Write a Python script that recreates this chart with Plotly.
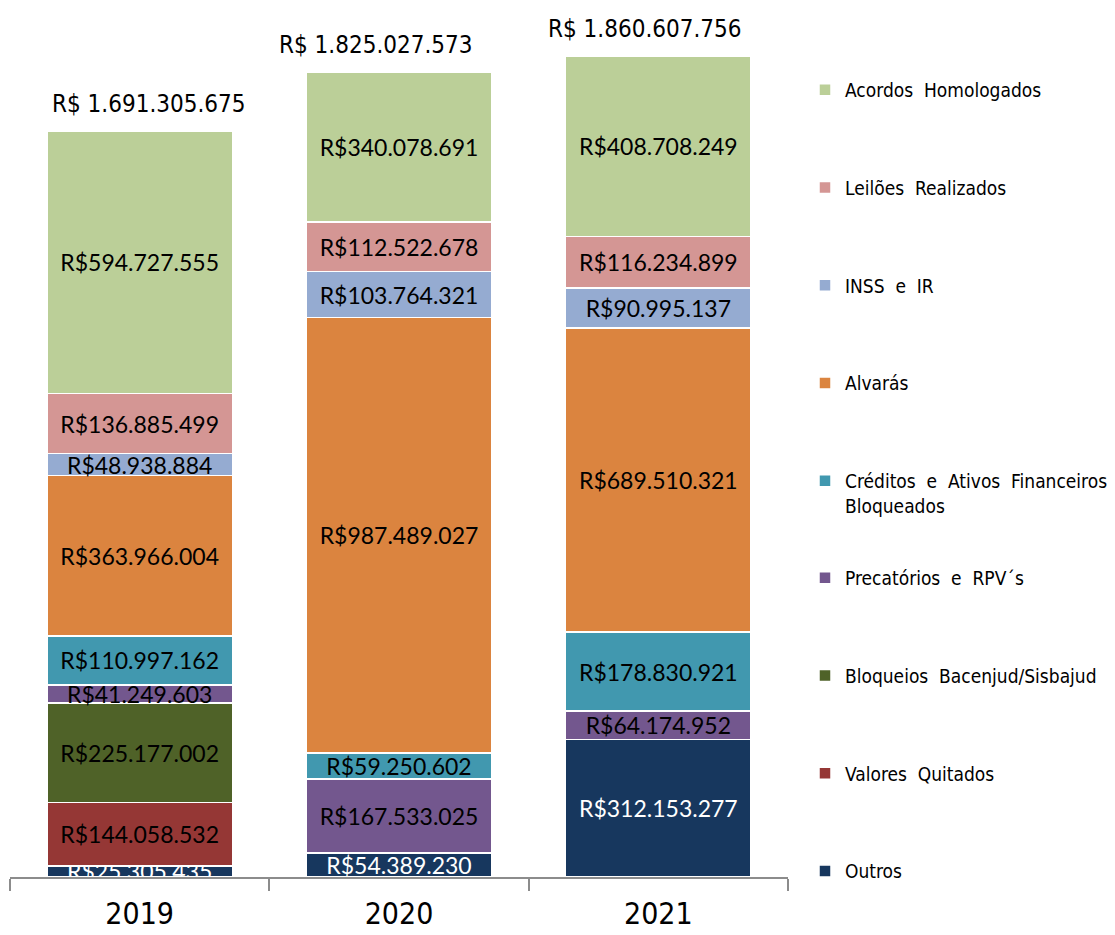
import plotly.graph_objects as go

years = ['2019', '2020', '2021']

# stacked from the bottom up
outros = [25305435, 54389230, 312153277]
valores_quitados = [144058532, None, None]
bloqueios = [225177002, None, None]
precatorios = [41249603, 167533025, 64174952]
creditos = [110997162, 59250602, 178830921]
alvaras = [363966004, 987489027, 689510321]
inss_ir = [48938884, 103764321, 90995137]
leiloes = [136885499, 112522678, 116234899]
acordos = [594727555, 340078691, 408708249]

# totals as printed above the bars
totals = [1691305675, 1825027573, 1860607756]

series = [
    ('Outros', outros, '#17375E', 'white', 'legend2'),
    ('Valores  Quitados', valores_quitados, '#953735', 'black', 'legend2'),
    ('Bloqueios  Bacenjud/Sisbajud', bloqueios, '#4F6228', 'black', 'legend2'),
    ('Precatórios  e  RPV´s', precatorios, '#73578E', 'black', 'legend2'),
    ('Créditos  e  Ativos  Financeiros<br>Bloqueados', creditos, '#4198AF', 'black', 'legend'),
    ('Alvarás', alvaras, '#DB843F', 'black', 'legend'),
    ('INSS  e  IR', inss_ir, '#95ABD1', 'black', 'legend'),
    ('Leilões  Realizados', leiloes, '#D49694', 'black', 'legend'),
    ('Acordos  Homologados', acordos, '#BBCF98', 'black', 'legend'),
]


def brl(v, sep=''):
    return 'R$' + sep + f'{v:,}'.replace(',', '.')


cond = 'DejaVu Sans Condensed, Liberation Sans Narrow, sans-serif'

fig = go.Figure()
for rank, (name, vals, color, tcolor, leg) in enumerate(series):
    fig.add_trace(go.Bar(
        x=years, y=vals, name=name,
        marker=dict(color=color, line=dict(color='white', width=1.5)),
        text=[brl(v) if v else '' for v in vals],
        textposition='inside', insidetextanchor='middle', textangle=0,
        constraintext='none',
        textfont=dict(family='Lato, Open Sans, sans-serif', size=23, color=tcolor),
        legendgroup=name, legend=leg, legendrank=100 - rank,
        hoverinfo='skip',
    ))

# totals above each bar
shifts = [9, -23, -13]
for i, (tot, dx) in enumerate(zip(totals, shifts)):
    fig.add_annotation(x=i, y=tot, text=brl(tot, ' '), showarrow=False,
                       yanchor='middle', yshift=27, xshift=dx,
                       font=dict(family=cond, size=24, color='black'))

legend_style = dict(font=dict(family=cond, size=19, color='black'),
                    traceorder='grouped', tracegroupgap=70,
                    valign='top', xanchor='left', yanchor='top',
                    xref='container', yref='container',
                    bgcolor='rgba(0,0,0,0)', itemclick=False)

fig.update_layout(
    barmode='stack', bargap=0.285,
    width=1115, height=935,
    margin=dict(l=2, r=335, t=12, b=66),
    plot_bgcolor='white', paper_bgcolor='white',
    showlegend=True,
    legend=dict(x=797 / 1115, y=1 - 63 / 935, **legend_style),
    legend2=dict(x=797 / 1115, y=1 - 551 / 935, **legend_style),
    xaxis=dict(type='category', range=[-0.5, 2.5], showline=True,
               linecolor='#8C8C8C', linewidth=1.5,
               ticks='outside', tickson='boundaries', ticklen=12, tickcolor='#8C8C8C',
               tickwidth=1.5, automargin=False, ticklabelstandoff=9,
               tickfont=dict(family=cond, size=30, color='black'),
               showgrid=False),
    yaxis=dict(range=[0, 1943e6], visible=False, showgrid=False),
)

fig.write_html('out.html')
